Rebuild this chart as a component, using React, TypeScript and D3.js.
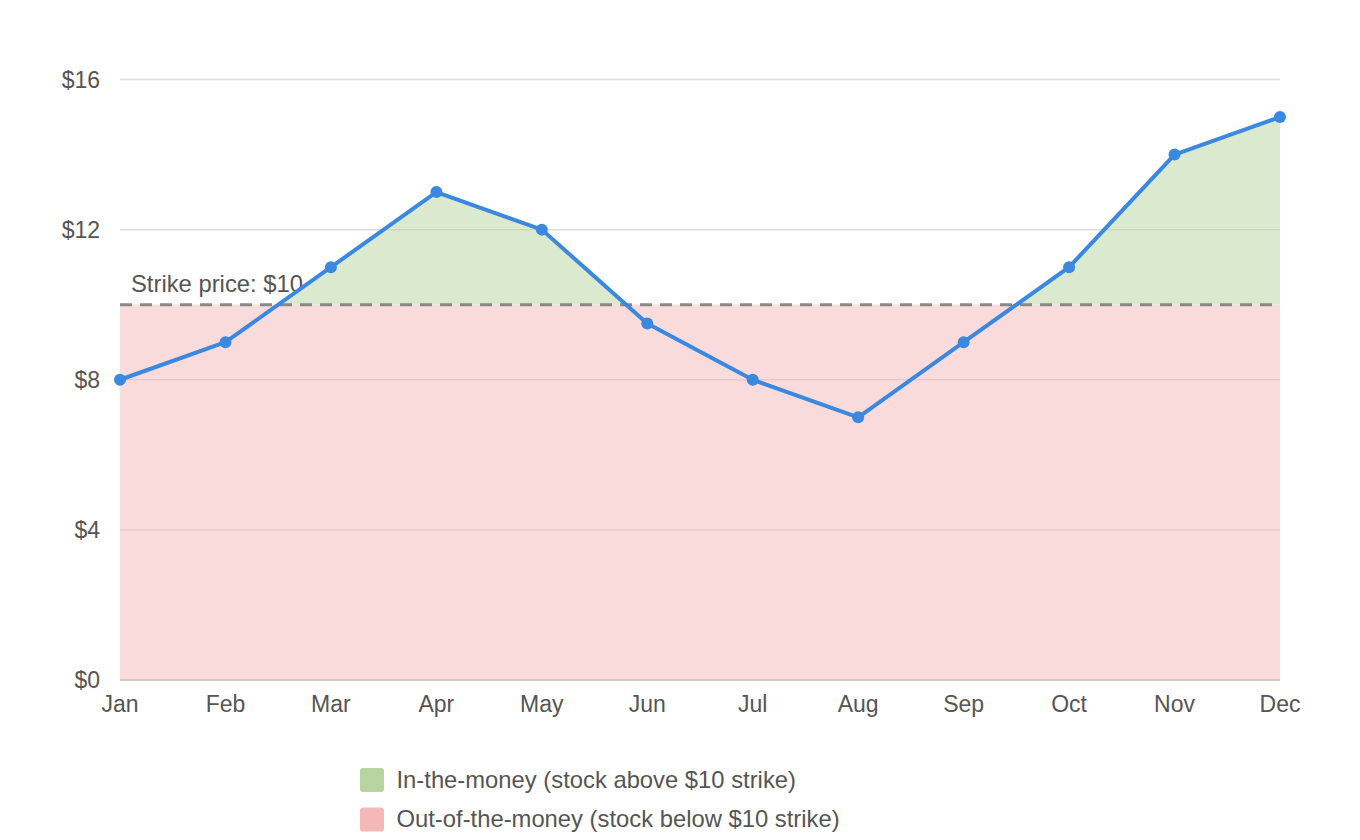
import React from "react";
import * as d3 from "d3";

const months = ["Jan", "Feb", "Mar", "Apr", "May", "Jun", "Jul", "Aug", "Sep", "Oct", "Nov", "Dec"];
const prices = [8, 9, 11, 13, 12, 9.5, 8, 7, 9, 11, 14, 15];
const strike = 10;
const yTicks = [0, 4, 8, 12, 16];
const legendItems = [
  { label: "In-the-money (stock above $10 strike)", color: "#b8d4a0" },
  { label: "Out-of-the-money (stock below $10 strike)", color: "#f4b8b8" },
];

const W = 1360;
const H = 840;
const left = 120;
const right = 1280;
const top = 79.5;
const bottom = 680;
const font = "'Liberation Sans', Arial, Helvetica, sans-serif";
const textColor = "#555";

export default function App() {
  const data = months.map((m, i) => ({ m, v: prices[i] }));
  const x = d3.scalePoint<string>().domain(months).range([left, right]);
  const y = d3.scaleLinear().domain([0, 16]).range([bottom, top]);

  const redArea = d3
    .area<{ m: string; v: number }>()
    .x((d) => x(d.m)!)
    .y0(y(0))
    .y1(y(strike))(data)!;
  const greenArea = d3
    .area<{ m: string; v: number }>()
    .x((d) => x(d.m)!)
    .y0(y(strike))
    .y1((d) => y(d.v))(data)!;
  const line = d3
    .line<{ m: string; v: number }>()
    .x((d) => x(d.m)!)
    .y((d) => y(d.v))(data)!;

  return (
    <svg
      width={W}
      height={H}
      style={{ position: "absolute", left: 0, top: 0, background: "#fff" }}
      fontFamily={font}
    >
      <defs>
        <clipPath id="aboveStrike">
          <rect x={left} y={0} width={right - left} height={y(strike)} />
        </clipPath>
      </defs>
      {yTicks.map((t) => (
        <g key={t}>
          <line x1={left} x2={right} y1={y(t)} y2={y(t)} stroke={t === 0 ? "#bbb" : "#ddd"} strokeWidth={1.5} />
          <text x={100} y={y(t)} dy="0.35em" textAnchor="end" fontSize={23} fill={textColor}>
            {`$${t}`}
          </text>
        </g>
      ))}
      <path d={redArea} fill="#f4b8b8" fillOpacity={0.5} />
      <path d={greenArea} fill="#b8d4a0" fillOpacity={0.5} clipPath="url(#aboveStrike)" />
      <line
        x1={left}
        x2={right}
        y1={y(strike)}
        y2={y(strike)}
        stroke="#888"
        strokeWidth={3}
        strokeDasharray="12,8"
      />
      <text x={131} y={292} fontSize={23.8} fill={textColor}>
        Strike price: $10
      </text>
      <path d={line} fill="none" stroke="#3a88e0" strokeWidth={4} strokeLinejoin="round" />
      {data.map((d) => (
        <circle key={d.m} cx={x(d.m)!} cy={y(d.v)} r={6} fill="#3a88e0" />
      ))}
      {months.map((m) => (
        <text key={m} x={x(m)!} y={712} textAnchor="middle" fontSize={23} fill={textColor}>
          {m}
        </text>
      ))}
      {legendItems.map((it, i) => (
        <g key={it.label} transform={`translate(360, ${768 + i * 39.5})`}>
          <rect width={24} height={24} rx={3} fill={it.color} />
          <text x={36.5} y={19.5} fontSize={23.8} fill={textColor}>
            {it.label}
          </text>
        </g>
      ))}
    </svg>
  );
}
